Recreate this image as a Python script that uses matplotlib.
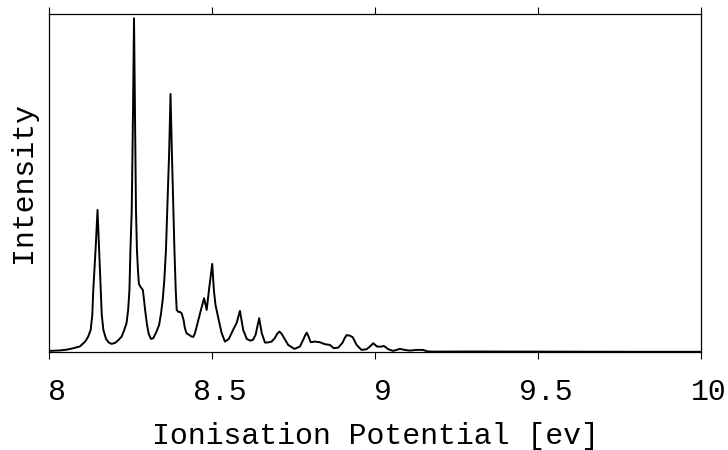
import matplotlib.pyplot as plt
from matplotlib.transforms import ScaledTranslation

# spectrum trace (energy in eV, intensity in arbitrary units)
energy = [8.000, 8.033, 8.055, 8.074, 8.094, 8.110, 8.119, 8.127, 8.132, 8.135,
          8.142, 8.148, 8.153, 8.158, 8.161, 8.166, 8.174, 8.182, 8.191, 8.202,
          8.211, 8.222, 8.229, 8.237, 8.242, 8.246, 8.249, 8.253, 8.257, 8.260,
          8.263, 8.266, 8.269, 8.272, 8.275, 8.280, 8.287, 8.290, 8.294, 8.300,
          8.305, 8.312, 8.319, 8.329, 8.337, 8.343, 8.348, 8.353, 8.358, 8.363,
          8.368, 8.372, 8.376, 8.380, 8.384, 8.388, 8.391, 8.396, 8.401, 8.406,
          8.412, 8.416, 8.421, 8.429, 8.437, 8.442, 8.447, 8.455, 8.464, 8.475,
          8.483, 8.490, 8.500, 8.505, 8.510, 8.521, 8.529, 8.539, 8.551, 8.564,
          8.575, 8.585, 8.595, 8.606, 8.616, 8.625, 8.633, 8.644, 8.652, 8.662,
          8.672, 8.682, 8.692, 8.699, 8.706, 8.712, 8.718, 8.733, 8.752, 8.769,
          8.779, 8.785, 8.790, 8.796, 8.802, 8.815, 8.830, 8.846, 8.861, 8.873,
          8.887, 8.900, 8.906, 8.912, 8.922, 8.931, 8.943, 8.958, 8.974, 8.986,
          8.994, 9.006, 9.020, 9.027, 9.040, 9.055, 9.076, 9.091, 9.106, 9.127,
          9.147, 9.160, 9.178, 9.300, 9.450, 9.600, 9.800, 10.000]
intensity = [1.0, 1.5, 2.3, 3.7, 5.5, 10.3, 15.0, 22.0, 37.0, 62.0,
             102.0, 142.0, 102.0, 62.0, 37.0, 22.0, 13.0, 9.5, 8.0, 9.0,
             11.5, 15.3, 21.0, 28.7, 42.0, 62.0, 102.0, 142.0, 242.0, 333.7,
             242.0, 142.0, 102.0, 82.0, 68.0, 65.0, 62.0, 54.0, 42.0, 27.0,
             18.0, 13.0, 13.7, 20.3, 27.0, 38.7, 52.0, 72.0, 102.0, 152.0,
             202.0, 258.0, 202.0, 152.0, 102.0, 62.0, 42.0, 40.0, 40.0, 38.7,
             32.0, 24.0, 18.7, 17.0, 15.3, 15.0, 18.7, 29.0, 40.3, 53.7,
             42.0, 62.0, 88.0, 62.0, 47.0, 30.3, 18.7, 10.3, 13.0, 22.0,
             29.0, 41.0, 22.0, 13.0, 11.3, 12.0, 17.0, 33.7, 18.7, 9.3,
             9.5, 10.3, 13.7, 18.0, 20.3, 18.5, 15.3, 7.0, 3.0, 5.3,
             12.0, 16.5, 19.3, 15.0, 9.7, 10.3, 9.7, 7.7, 7.0, 3.7,
             4.3, 9.3, 13.5, 16.7, 16.3, 14.7, 7.0, 2.0, 2.7, 6.0,
             8.7, 5.3, 5.3, 6.0, 2.7, 1.0, 3.0, 2.0, 1.3, 2.0,
             2.0, 0.5, 0.3, 0.4, 0.3, 0.2, 0.1, 0.1]

xticks = [8, 8.5, 9, 9.5, 10]
xticklabels = ["8", "8.5", "9", "9.5", "10"]

plt.rcParams["font.family"] = ["Liberation Mono", "DejaVu Sans Mono"]

fig = plt.figure(figsize=(7.28, 4.5), dpi=100)
ax = fig.add_axes([0.0677, 0.218, 0.8953, 0.751])

ax.plot(energy, intensity, color="black", lw=1.4)
ax.set_xlim(8, 10)
ax.set_ylim(0, 338)

ax.set_xticks(xticks)
ax.set_xticklabels(xticklabels)
ax.set_yticks([])
ax.tick_params(axis="x", direction="out", length=5, width=0.8,
               top=True, labelsize=21.5, pad=13.5)
# tick labels sit a little right of their ticks in the reference
shift = ScaledTranslation(8 / 100, 0, fig.dpi_scale_trans)
for lab in ax.get_xticklabels():
    lab.set_transform(lab.get_transform() + shift)
for s in ax.spines.values():
    s.set_linewidth(0.9)

ax.set_xlabel("Ionisation Potential [ev]", fontsize=21.5, labelpad=12)
ax.set_ylabel("Intensity", fontsize=21.5, labelpad=9)

fig.savefig("out.png", dpi=100)
